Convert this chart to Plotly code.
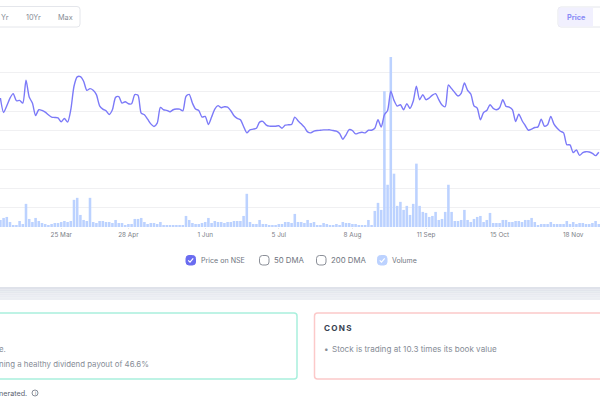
import plotly.graph_objects as go

# trading sessions (left part of the chart is cut off by the page)
price = [
    133.4, 118.5, 125.4, 133.4, 138, 130.6, 131, 128.2, 151.8, 134.5,
    128.2, 115.4, 121.3, 120.6, 118.9, 116.1, 113.7, 113.3, 113, 108.8,
    112.3, 108.5, 121.3, 145.6, 155.3, 155.6, 150.8, 141.4, 143.1, 141.4,
    136.9, 125.4, 122, 120.2, 116.4, 121.3, 134.1, 134.8, 128.2, 129.6,
    127.5, 127.5, 136.9, 136.2, 117.8, 116.1, 111.6, 106.7, 104, 107.4,
    123.7, 121.3, 120.6, 119.2, 121.3, 122, 122, 120.2, 135.2, 137.2,
    128.2, 122, 120.6, 113.7, 114.4, 106, 113.7, 122, 125.5, 123.4,
    124.4, 124, 120.3, 115, 112.3, 110.9, 104, 97.4, 100.5, 101.2,
    102.2, 108.5, 109.2, 105.7, 104.3, 104.3, 104.3, 104.7, 102.2, 105.3,
    105.7, 106, 113.7, 109.9, 106.7, 103.3, 98.4, 97.4, 99.1, 99.8,
    100.1, 100.5, 100.5, 100.5, 99.8, 99.1, 96.7, 90.8, 95.3, 100.8,
    99.8, 96.3, 97.4, 98, 97.4, 100.1, 100.1, 102.2, 110.9, 103.3,
    116.1, 120.6, 140.4, 131, 125.1, 126.5, 121.3, 127.5, 122.7, 130,
    145.6, 131.7, 136.9, 131.7, 133.4, 136.5, 138, 131.7, 126.1, 124.4,
    147, 143.1, 139, 135.5, 138.3, 149, 141.4, 137.6, 125.4, 123,
    110.9, 118.5, 120.6, 126.5, 122.7, 121.3, 123.4, 131.7, 124.8, 124.1,
    121.3, 109.2, 116.8, 110.2, 105, 100.1, 101.2, 102.9, 103.6, 111.6,
    104.3, 105.7, 114.4, 106.4, 102.2, 99.1, 97.4, 85.2, 84.9, 76.9,
    79.7, 74.1, 76.9, 77.9, 77.6, 76.2, 73.8, 77.3,
]
volume = [
    7, 9, 10, 5, 1, 2, 6, 3, 23, 8,
    5, 9, 6, 4, 3, 2, 3, 4, 4, 5,
    6, 5, 6, 27, 29, 12, 7, 6, 29, 5,
    4, 6, 6, 5, 5, 4, 7, 4, 4, 2,
    3, 3, 8, 8, 9, 5, 3, 4, 4, 3,
    5, 2, 2, 2, 1, 2, 2, 2, 11, 7,
    4, 3, 3, 4, 5, 9, 4, 6, 5, 5,
    4, 5, 5, 6, 6, 6, 11, 33, 5, 3,
    3, 7, 3, 3, 2, 2, 2, 3, 3, 5,
    5, 4, 13, 5, 5, 4, 7, 4, 5, 2,
    2, 4, 3, 2, 2, 3, 2, 5, 4, 4,
    3, 3, 2, 2, 2, 7, 2, 16, 24, 17,
    135, 42, 169, 53, 21, 25, 17, 21, 12, 23,
    63, 21, 15, 14, 10, 11, 15, 7, 8, 15,
    42, 15, 6, 6, 7, 17, 7, 5, 8, 10,
    11, 5, 7, 14, 4, 4, 4, 7, 7, 5,
    5, 6, 6, 5, 7, 7, 9, 5, 2, 3,
    3, 3, 5, 3, 3, 3, 3, 6, 3, 5,
    3, 4, 4, 3, 3, 4, 6, 3,
]
sessions = list(range(len(volume)))
tick_sessions = [19, 40, 64, 87, 110, 133, 156, 179]
tick_labels = ["25 Mar", "28 Apr", "1 Jun", "5 Jul", "8 Aug", "11 Sep", "15 Oct", "18 Nov"]

W, H = 600, 400
TOP, BASE = 53, 227
FONT = "Inter"


def px(x):
    return x / W


def py(y):
    return (BASE - y) / (BASE - TOP)


def rrect(x0, y0, x1, y1, r=3):
    pts = [
        f"M{px(x0 + r)},{py(y0)}", f"L{px(x1 - r)},{py(y0)}", f"Q{px(x1)},{py(y0)} {px(x1)},{py(y0 + r)}",
        f"L{px(x1)},{py(y1 - r)}", f"Q{px(x1)},{py(y1)} {px(x1 - r)},{py(y1)}",
        f"L{px(x0 + r)},{py(y1)}", f"Q{px(x0)},{py(y1)} {px(x0)},{py(y1 - r)}",
        f"L{px(x0)},{py(y0 + r)}", f"Q{px(x0)},{py(y0)} {px(x0 + r)},{py(y0)}", "Z",
    ]
    return " ".join(pts)


def box(x0, y0, x1, y1, line="rgba(0,0,0,0)", fill="rgba(0,0,0,0)", w=1, r=3):
    return dict(type="path", xref="paper", yref="paper", path=rrect(x0, y0, x1, y1, r),
                line=dict(color=line, width=w), fillcolor=fill, layer="above")


def check(x, y):
    path = f"M{px(x + 2.2)},{py(y + 4.8)} L{px(x + 4)},{py(y + 6.6)} L{px(x + 7.2)},{py(y + 2.8)}"
    return dict(type="path", xref="paper", yref="paper", path=path,
                line=dict(color="white", width=1.2), layer="above")


def note(x, y, text, size=8.1, color="#868c96", anchor="left"):
    return dict(xref="paper", yref="paper", x=px(x), y=py(y), text=text, showarrow=False,
                xanchor=anchor, yanchor="middle", borderpad=0,
                font=dict(family=FONT, size=size, color=color))


shapes = []
# grey strip under the chart panel
strip = ["#dfe2ea", "#e2e5ec", "#e5e8ee", "#e8eaf0", "#eaecf2", "#eceef3"]
for k, c in enumerate(strip):
    shapes.append(dict(type="rect", xref="paper", yref="paper", x0=0, x1=1,
                       y0=py(287 + k * 13 / 6), y1=py(287 + (k + 1) * 13 / 6),
                       line=dict(width=0), fillcolor=c, layer="above"))
# range and price buttons
shapes.append(box(-6, 6.5, 80, 27, line="#e4e6eb"))
shapes.append(box(558, 7, 606, 27, line="#e4e6eb"))
shapes.append(box(558.5, 7.5, 593, 26.5, fill="#f1f0fe", r=1))
# legend check boxes
shapes.append(box(186, 255.5, 195.5, 265, fill="#6a6cf0", line="#6a6cf0"))
shapes.append(check(186, 255.5))
shapes.append(box(259.5, 255.5, 269, 265, line="#8b8f98"))
shapes.append(box(316.5, 255.5, 326, 265, line="#8b8f98"))
shapes.append(box(377.5, 255.5, 387, 265, fill="#bcd2ff", line="#bcd2ff"))
shapes.append(check(377.5, 255.5))
# pros and cons cards
shapes.append(box(-6, 313, 297, 379, line="#a9f0dd", w=1.5))
shapes.append(box(314.5, 313, 606, 379, line="#fcc9c9", w=1.5))
# info icon
shapes.append(dict(type="circle", xref="paper", yref="paper", x0=px(32), x1=px(38), y0=py(390), y1=py(396),
                   line=dict(color="#6b7280", width=0.8), layer="above"))

annotations = [
    note(0, 17, "Yr", size=7.3),
    note(25, 17, "10Yr", size=7.3),
    note(57, 17, "Max", size=7.3),
    note(576, 17, "<b>Price</b>", size=7.3, color="#8b8cf6", anchor="center"),
    note(199.5, 260, "Price on NSE", size=7.1, color="#6f7580"),
    note(273, 260, "50 DMA", size=7.8, color="#6f7580"),
    note(330, 260, "200 DMA", size=7.8, color="#6f7580"),
    note(391, 260, "Volume", size=7, color="#6f7580"),
    note(6.5, 349, "e.", size=7.8, anchor="right"),
    note(150, 364, "ning a healthy dividend payout of 46.6%", size=7.85, anchor="right"),
    note(323, 328, "<b>C\u2009O\u2009N\u2009S</b>", color="#374151"),
    note(323, 349, "\u2022"),
    note(331, 349, "Stock is trading at 10.3 times its book value"),
    note(28, 393, "nerated.", size=7.2, color="#5b6370", anchor="right"),
    note(35, 393, "i", size=5, color="#6b7280", anchor="center"),
]

fig = go.Figure()
fig.add_trace(go.Bar(x=sessions, y=volume, marker=dict(color="#bcd2ff", line=dict(width=0)), name="Volume"))
fig.add_trace(go.Scatter(x=sessions, y=price, mode="lines", yaxis="y2", name="Price on NSE",
                         line=dict(color="#7c7af8", width=1.4, shape="spline", smoothing=0.7)))

fig.update_layout(
    width=W, height=H, margin=dict(l=0, r=0, t=TOP, b=H - BASE),
    paper_bgcolor="white", plot_bgcolor="white", showlegend=False, bargap=0.2,
    xaxis=dict(range=[-0.125, 187.375], tickmode="array", tickvals=tick_sessions, ticktext=tick_labels,
               showgrid=False, zeroline=False, showline=False, ticks="outside", ticklen=1, tickcolor="#e8e8e8",
               tickfont=dict(family=FONT, size=6.4, color="#7c8088")),
    yaxis=dict(range=[0, 173], showgrid=False, zeroline=False, showticklabels=False),
    yaxis2=dict(range=[0, 180], dtick=20, overlaying="y", showgrid=True, gridcolor="#f0f0f2", gridwidth=1,
                zeroline=False, showticklabels=False),
    shapes=shapes, annotations=annotations,
)

# the page's default body margin would shift the whole chart
fig.write_html("out.html", config={"displayModeBar": False},
               post_script="document.body.style.margin='0';document.body.style.overflow='hidden';")
